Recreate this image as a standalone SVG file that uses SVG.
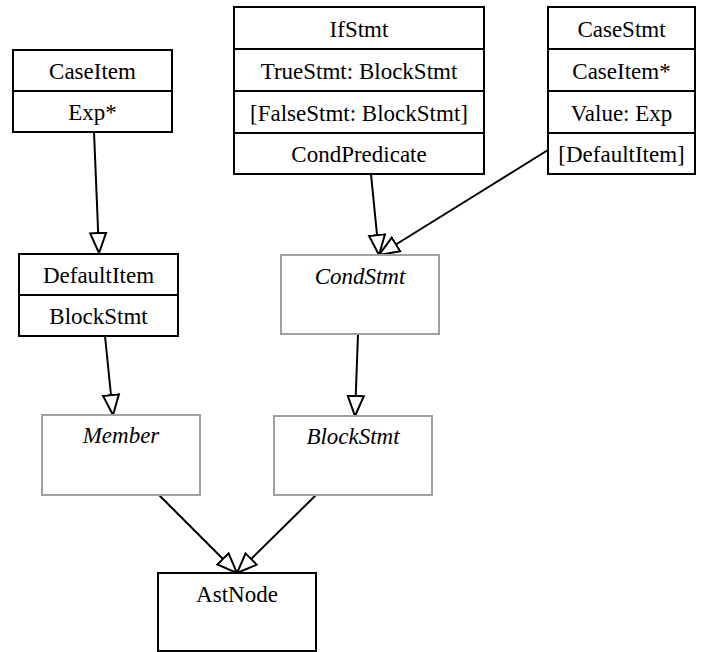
<svg xmlns="http://www.w3.org/2000/svg" width="702" height="652" viewBox="0 0 702 652">
<style>
.bx{fill:#fff;stroke:#000;stroke-width:2}
.ab{fill:#fff;stroke:#a0a0a0;stroke-width:2}
.dv{stroke:#000;stroke-width:2}
text{font-family:"Liberation Serif","Times New Roman",serif;font-size:23px;text-anchor:middle;fill:#000}
.it{font-style:italic}
.e{fill:none;stroke:#000;stroke-width:2;marker-end:url(#tri)}
</style>
<defs>
<marker id="tri" markerUnits="userSpaceOnUse" markerWidth="26" markerHeight="22" refX="21" refY="10" orient="auto" viewBox="0 0 26 22">
<path d="M1,2 L21,10 L1,18 Z" fill="#fff" stroke="#000" stroke-width="2"/>
</marker>
</defs>
<rect width="702" height="652" fill="#fff"/>
<g id="connectors">
<path class="e" d="M94,132 L99,253"/>
<path class="e" d="M105,336 L113,415"/>
<path class="e" d="M371,174 L379,255"/>
<path class="e" d="M548,150 L379,255"/>
<path class="e" d="M358,334 L355,416"/>
<path class="e" d="M159,495 L237,573"/>
<path class="e" d="M316,495 L237,573"/>
</g>
<g id="CaseItem">
<rect class="bx" x="13" y="50" width="159" height="82"/>
<line class="dv" x1="13" y1="91" x2="172" y2="91"/>
<text x="92.5" y="79">CaseItem</text>
<text x="92.5" y="120">Exp*</text>
</g>
<g id="IfStmt">
<rect class="bx" x="234" y="7" width="250" height="167"/>
<line class="dv" x1="234" y1="49" x2="484" y2="49"/>
<line class="dv" x1="234" y1="91" x2="484" y2="91"/>
<line class="dv" x1="234" y1="133" x2="484" y2="133"/>
<text x="359" y="37">IfStmt</text>
<text x="359" y="79">TrueStmt: BlockStmt</text>
<text x="359" y="121">[FalseStmt: BlockStmt]</text>
<text x="359" y="162">CondPredicate</text>
</g>
<g id="CaseStmt">
<rect class="bx" x="548" y="7" width="147" height="167"/>
<line class="dv" x1="548" y1="49" x2="695" y2="49"/>
<line class="dv" x1="548" y1="91" x2="695" y2="91"/>
<line class="dv" x1="548" y1="133" x2="695" y2="133"/>
<text x="621.5" y="37">CaseStmt</text>
<text x="621.5" y="79">CaseItem*</text>
<text x="621.5" y="121">Value: Exp</text>
<text x="621.5" y="162">[DefaultItem]</text>
</g>
<g id="DefaultItem">
<rect class="bx" x="19" y="254" width="159" height="82"/>
<line class="dv" x1="19" y1="295" x2="178" y2="295"/>
<text x="98.5" y="283">DefaultItem</text>
<text x="98.5" y="324">BlockStmt</text>
</g>
<g id="CondStmt">
<rect class="ab" x="281" y="255" width="158" height="79"/>
<text class="it" x="360" y="284">CondStmt</text>
</g>
<g id="Member">
<rect class="ab" x="42" y="415" width="158" height="80"/>
<text class="it" x="121" y="443">Member</text>
</g>
<g id="BlockStmt">
<rect class="ab" x="274" y="416" width="158" height="79"/>
<text class="it" x="353" y="444">BlockStmt</text>
</g>
<g id="AstNode">
<rect class="bx" x="158" y="573" width="158" height="78"/>
<text x="237" y="602">AstNode</text>
</g>
</svg>
